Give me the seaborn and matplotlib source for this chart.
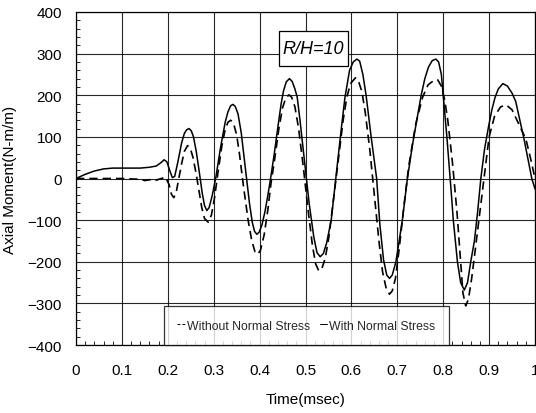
import matplotlib
matplotlib.use("Agg")
import matplotlib.pyplot as plt
import matplotlib.patches as mpatches
from matplotlib.ticker import MultipleLocator
import seaborn as sns
import pandas as pd

# ---- data ----
t_with = [0.0, 0.02, 0.04, 0.06, 0.08, 0.10, 0.12, 0.14, 0.16, 0.175, 0.185, 0.192, 0.198, 0.204,
          0.21, 0.215, 0.222, 0.23, 0.236, 0.241, 0.246, 0.251, 0.256, 0.262, 0.268, 0.275,
          0.28, 0.285, 0.29, 0.297, 0.305, 0.315, 0.325, 0.331, 0.337, 0.342, 0.347, 0.353,
          0.36, 0.37, 0.378, 0.384, 0.389, 0.394, 0.399, 0.405, 0.412, 0.418, 0.424, 0.432,
          0.44, 0.447, 0.452, 0.458, 0.465, 0.471, 0.477, 0.482, 0.488, 0.495, 0.502, 0.508,
          0.518, 0.525, 0.532, 0.539, 0.546, 0.556, 0.566, 0.578, 0.586, 0.596, 0.604, 0.612,
          0.618, 0.625, 0.632, 0.643, 0.655, 0.662, 0.67, 0.677, 0.683, 0.689, 0.697, 0.711,
          0.722, 0.733, 0.744, 0.752, 0.76, 0.768, 0.776, 0.784, 0.79, 0.796, 0.8, 0.804,
          0.808, 0.813, 0.818, 0.822, 0.831, 0.838, 0.846, 0.853, 0.86, 0.868, 0.875, 0.882,
          0.89, 0.898, 0.906, 0.913, 0.92, 0.93, 0.94, 0.95, 0.958, 0.966, 0.976, 0.985,
          0.993, 1.0]
m_with = [0, 10, 18, 23, 25, 25, 25, 25, 27, 30, 38, 45, 40, 20,
          2, 5, 40, 85, 108, 117, 120, 115, 100, 65, 20, -35,
          -65, -77, -70, -40, 5, 75, 135, 160, 175, 178, 173, 155,
          110, 15, -60, -105, -127, -134, -129, -112, -78, -40, 0, 60,
          125, 180, 210, 232, 240, 233, 215, 195, 140, 70, 0, -60,
          -140, -178, -188, -180, -155, -100, 0, 120, 195, 260, 280, 287,
          282, 250, 200, 100, 0, -110, -195, -232, -240, -232, -200, -100,
          0, 80, 150, 200, 240, 268, 283, 287, 280, 250, 200, 150,
          100, 30, -40, -100, -200, -250, -268, -250, -200, -150, -80, 0,
          70, 120, 165, 195, 215, 228, 222, 205, 185, 145, 95, 45,
          0, -25]

t_without = [0.0, 0.05, 0.10, 0.14, 0.15, 0.16, 0.17, 0.18, 0.195, 0.203, 0.208, 0.213, 0.218,
             0.224, 0.23, 0.236, 0.243, 0.249, 0.255, 0.262, 0.268, 0.274, 0.28, 0.288, 0.295,
             0.302, 0.31, 0.318, 0.325, 0.331, 0.337, 0.343, 0.35, 0.356, 0.365, 0.375, 0.383,
             0.39, 0.396, 0.402, 0.41, 0.418, 0.425, 0.432, 0.442, 0.45, 0.457, 0.464, 0.47,
             0.477, 0.485, 0.495, 0.505, 0.515, 0.522, 0.529, 0.536, 0.543, 0.551, 0.561, 0.571,
             0.582, 0.59, 0.598, 0.609, 0.616, 0.623, 0.63, 0.64, 0.65, 0.66, 0.668, 0.676,
             0.683, 0.689, 0.696, 0.704, 0.714, 0.725, 0.74, 0.755, 0.767, 0.78, 0.788, 0.796,
             0.803, 0.81, 0.82, 0.83, 0.838, 0.843, 0.849, 0.855, 0.862, 0.87, 0.88, 0.89,
             0.9, 0.912, 0.925, 0.937, 0.95, 0.965, 0.98, 0.99, 1.0]
m_without = [0, 0, 0, -2, -5, -3, -6, -2, 3, -15, -38, -46, -35,
             0, 35, 65, 79, 73, 50, 10, -30, -70, -96, -105, -88,
             -45, 20, 80, 118, 135, 140, 133, 105, 60, -20, -100, -150,
             -176, -182, -172, -135, -75, -10, 40, 120, 170, 193, 201, 195,
             172, 120, 30, -70, -160, -205, -222, -215, -192, -140, -50, 40,
             140, 195, 228, 242, 232, 208, 160, 70, -40, -150, -225, -265,
             -278, -270, -240, -170, -70, 30, 130, 195, 225, 236, 237, 222,
             190, 140, 40, -80, -200, -275, -306, -290, -240, -170, -80, 10,
             100, 150, 172, 177, 165, 130, 95, 50, 0]

label_without = "Without Normal Stress"
label_with = "With Normal Stress"
annot_text = "R/H=10"
x_ticks = [0, 0.1, 0.2, 0.3, 0.4, 0.5, 0.6, 0.7, 0.8, 0.9, 1]
x_ticklabels = ["0", "0.1", "0.2", "0.3", "0.4", "0.5", "0.6", "0.7", "0.8", "0.9", "1"]
y_ticks = [-400, -300, -200, -100, 0, 100, 200, 300, 400]

df_with = pd.DataFrame({"t": t_with, "m": m_with})
df_without = pd.DataFrame({"t": t_without, "m": m_without})

sns.set_theme(style="white")
plt.rcParams["font.family"] = ["Liberation Sans", "DejaVu Sans"]

fig = plt.figure(figsize=(5.36, 4.14), dpi=100)
ax = fig.add_axes([76 / 536, 1 - 346 / 414, 459 / 536, 333 / 414])

sns.lineplot(data=df_without, x="t", y="m", ax=ax, color="black", lw=1.2,
             linestyle=(0, (5, 3)), label=label_without, sort=False)
sns.lineplot(data=df_with, x="t", y="m", ax=ax, color="black", lw=1.1,
             label=label_with, sort=False)

ax.set_xlim(0, 1)
ax.set_ylim(-400, 400)
ax.set_xticks(x_ticks)
ax.set_xticklabels(x_ticklabels)
ax.set_yticks(y_ticks)
ax.xaxis.set_minor_locator(MultipleLocator(0.02))
ax.yaxis.set_minor_locator(MultipleLocator(20))
ax.grid(True, which="major", color="black", lw=0.8, alpha=0.85)
ax.tick_params(which="major", direction="out", length=5, width=0.8, color="black",
               labelsize=11, labelcolor="black")
ax.tick_params(axis="x", which="major", pad=8)
ax.tick_params(axis="y", which="major", pad=5)
ax.tick_params(which="minor", direction="in", length=3, width=0.6, color="black",
               bottom=True, left=True)
for s in ax.spines.values():
    s.set_color("black")
    s.set_linewidth(0.9)

ax.set_xlabel("Time(msec)", fontsize=11, color="black")
ax.set_ylabel("Axial Moment(N-m/m)", fontsize=11, color="black")
ax.xaxis.set_label_coords(0.5, -0.14)
ax.yaxis.set_label_coords(-0.128, 0.5)

# annotation box
bx0 = (279 - 76) / 459
by0 = (346 - 67) / 333
ax.add_patch(mpatches.Rectangle((bx0, by0), 69 / 459, 35 / 333, transform=ax.transAxes,
                                facecolor="white", edgecolor="black", lw=0.9, zorder=5))
ax.text(bx0 + 34.5 / 459, by0 + 17.5 / 333, annot_text, transform=ax.transAxes,
        ha="center", va="center", fontsize=13, style="italic", color="black", zorder=6)

leg = ax.legend(loc="lower left", bbox_to_anchor=((164 - 76) / 459, 0.0),
                ncol=2, fontsize=8.8, frameon=True, fancybox=False,
                handlelength=0.65, handletextpad=0.15, columnspacing=0.75,
                borderpad=1.1, borderaxespad=0.0)
leg.get_frame().set_edgecolor("black")
leg.get_frame().set_linewidth(0.9)
leg_lines = leg.get_lines()
for h in leg_lines:
    h.set_linewidth(0.7)
leg_lines[0].set_linestyle((0, (3, 2)))

fig.savefig("out.png", dpi=100, facecolor="white")
